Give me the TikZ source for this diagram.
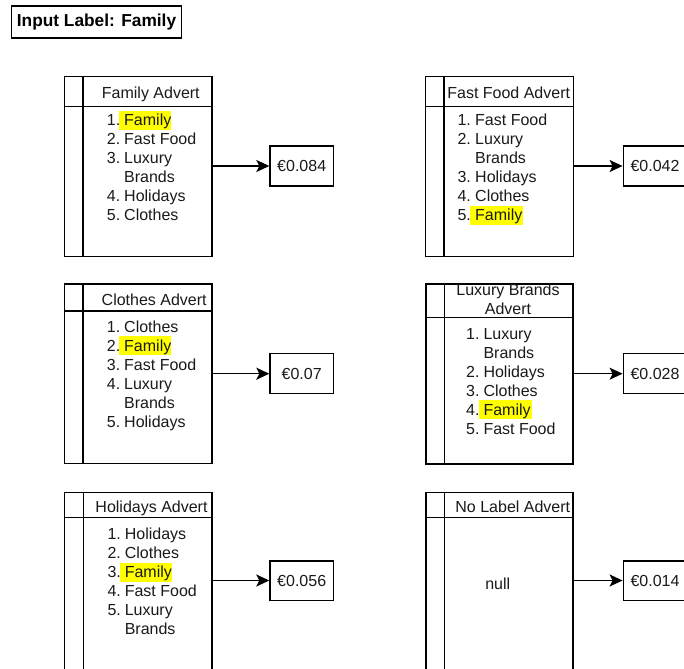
\documentclass[tikz,border=0pt]{standalone}
\usepackage{fontspec}
\setmainfont{Liberation Sans}
\usetikzlibrary{arrows.meta}
\definecolor{hl}{HTML}{FFFF00}
\definecolor{txt}{HTML}{1A1A1A}
\newcommand\ffs{\fontsize{16}{19}\selectfont}
\begin{document}
\begin{tikzpicture}[x=1pt,y=-1pt,
  advbox/.style={draw=black, line width=1.5pt, anchor=north west, inner sep=0pt},
  sepline/.style={draw=black, line width=1.5pt},
  num/.style={anchor=base west, inner sep=0pt, text=txt, font=\ffs},
  itm/.style={anchor=base west, inner sep=0pt, text=txt, font=\ffs},
  ttl/.style={anchor=base, inner sep=0pt, text=txt, font=\ffs, align=center},
  val/.style={draw=black, line width=1.5pt, minimum width=63.3pt, minimum height=40pt, inner sep=0pt, text=txt, font=\ffs},
  conn/.style={draw=black, line width=1.5pt, -{Stealth[length=13pt,width=12pt,inset=3pt]}},
  hlbox/.style={fill=hl}]
\useasboundingbox (0,0) rectangle (684,668);
\clip (0,0) rectangle (684,668);
\fill[white] (0,0) rectangle (684,668);

% title
\node[draw=black, line width=1.3pt, minimum width=170pt, minimum height=32pt, inner sep=0pt,
      font=\fontsize{17.3}{20}\selectfont\bfseries, text=black] (title) at (96.5,22) {Input Label: Family};

% highlights (behind the text)
\fill[hlbox] (119.3,110.9) rectangle (171.2,129.7);
\fill[hlbox] (470.3,205.9) rectangle (523.2,224.7);
\fill[hlbox] (119.3,336.4) rectangle (171.2,355.2);
\fill[hlbox] (478.6,400.4) rectangle (531.5,419.2);
\fill[hlbox] (119.6,563.4) rectangle (171.5,582.2);

% ---------- advert 1 : Family ----------
\node[advbox, minimum width=147.5pt, minimum height=179.7pt] (a1) at (63.5,76) {};
\draw[sepline] ([xshift=19.4pt]a1.north west) -- ([xshift=19.4pt]a1.south west);
\draw[sepline] ([yshift=-30.7pt]a1.north west) -- ([yshift=-30.7pt]a1.north east);
\node[ttl] (t1) at (150.8,98.4) {Family Advert};
\node[num] (a1n1) at (106.7,125.2) {1.};
\node[itm] (a1i1) at (124,125.2) {Family};
\node[num] (a1n2) at (106.7,144.2) {2.};
\node[itm] (a1i2) at (124,144.2) {Fast Food};
\node[num] (a1n3) at (106.7,163.2) {3.};
\node[itm] (a1i3) at (124,163.2) {Luxury};
\node[itm] (a1i3b) at (124,182.2) {Brands};
\node[num] (a1n4) at (106.7,201.2) {4.};
\node[itm] (a1i4) at (124,201.2) {Holidays};
\node[num] (a1n5) at (106.7,220.2) {5.};
\node[itm] (a1i5) at (124,220.2) {Clothes};
\node[val] (v1) at (301.7,166) {€0.084};
\draw[conn] (a1.east |- v1.west) -- (v1.west);

% ---------- advert 2 : Fast Food ----------
\node[advbox, minimum width=147.8pt, minimum height=179.7pt] (a2) at (424.7,76) {};
\draw[sepline] ([xshift=19.3pt]a2.north west) -- ([xshift=19.3pt]a2.south west);
\draw[sepline] ([yshift=-30.7pt]a2.north west) -- ([yshift=-30.7pt]a2.north east);
\node[ttl] (t2) at (508.7,98.7) {Fast Food Advert};
\node[num] (a2n1) at (457.3,125.2) {1.};
\node[itm] (a2i1) at (475,125.2) {Fast Food};
\node[num] (a2n2) at (457.3,144.2) {2.};
\node[itm] (a2i2) at (475,144.2) {Luxury};
\node[itm] (a2i2b) at (475,163.2) {Brands};
\node[num] (a2n3) at (457.3,182.2) {3.};
\node[itm] (a2i3) at (475,182.2) {Holidays};
\node[num] (a2n4) at (457.3,201.2) {4.};
\node[itm] (a2i4) at (475,201.2) {Clothes};
\node[num] (a2n5) at (457.3,220.2) {5.};
\node[itm] (a2i5) at (475,220.2) {Family};
\node[val] (v2) at (655,166) {€0.042};
\draw[conn] (a2.east |- v2.west) -- (v2.west);

% ---------- advert 3 : Clothes ----------
\node[advbox, minimum width=147.5pt, minimum height=179.4pt] (a3) at (63.5,283.3) {};
\draw[sepline] ([xshift=19.4pt]a3.north west) -- ([xshift=19.4pt]a3.south west);
\draw[sepline] ([yshift=-27.7pt]a3.north west) -- ([yshift=-27.7pt]a3.north east);
\node[ttl] (t3) at (154.2,305.7) {Clothes Advert};
\node[num] (a3n1) at (106.7,332.7) {1.};
\node[itm] (a3i1) at (124,332.7) {Clothes};
\node[num] (a3n2) at (106.7,351.7) {2.};
\node[itm] (a3i2) at (124,351.7) {Family};
\node[num] (a3n3) at (106.7,370.7) {3.};
\node[itm] (a3i3) at (124,370.7) {Fast Food};
\node[num] (a3n4) at (106.7,389.7) {4.};
\node[itm] (a3i4) at (124,389.7) {Luxury};
\node[itm] (a3i4b) at (124,408.7) {Brands};
\node[num] (a3n5) at (106.7,427.7) {5.};
\node[itm] (a3i5) at (124,427.7) {Holidays};
\node[val] (v3) at (301.7,373.7) {€0.07};
\draw[conn] (a3.east |- v3.west) -- (v3.west);

% ---------- advert 4 : Luxury Brands ----------
\node[advbox, minimum width=147.3pt, minimum height=180pt] (a4) at (425,283.3) {};
\draw[sepline] ([xshift=19.3pt]a4.north west) -- ([xshift=19.3pt]a4.south west);
\draw[sepline] ([yshift=-34pt]a4.north west) -- ([yshift=-34pt]a4.north east);
\node[ttl] (t4a) at (508,295.7) {Luxury Brands};
\node[ttl] (t4b) at (508,314) {Advert};
\node[num] (a4n1) at (466,339.7) {1.};
\node[itm] (a4i1) at (483.3,339.7) {Luxury};
\node[itm] (a4i1b) at (483.3,358.7) {Brands};
\node[num] (a4n2) at (466,377.7) {2.};
\node[itm] (a4i2) at (483.3,377.7) {Holidays};
\node[num] (a4n3) at (466,396.7) {3.};
\node[itm] (a4i3) at (483.3,396.7) {Clothes};
\node[num] (a4n4) at (466,415.2) {4.};
\node[itm] (a4i4) at (483.3,415.2) {Family};
\node[num] (a4n5) at (466,434.2) {5.};
\node[itm] (a4i5) at (483.3,434.2) {Fast Food};
\node[val] (v4) at (655,373.7) {€0.028};
\draw[conn] (a4.east |- v4.west) -- (v4.west);

% ---------- advert 5 : Holidays ----------
\node[advbox, minimum width=147.5pt, minimum height=250pt] (a5) at (63.5,491.7) {};
\draw[sepline] ([xshift=20pt]a5.north west) -- ([xshift=20pt]a5.south west);
\draw[sepline] ([yshift=-25.6pt]a5.north west) -- ([yshift=-25.6pt]a5.north east);
\node[ttl] (t5) at (151.5,512.4) {Holidays Advert};
\node[num] (a5n1) at (107.3,539.7) {1.};
\node[itm] (a5i1) at (124.6,539.7) {Holidays};
\node[num] (a5n2) at (107.3,558.7) {2.};
\node[itm] (a5i2) at (124.6,558.7) {Clothes};
\node[num] (a5n3) at (107.3,577.7) {3.};
\node[itm] (a5i3) at (124.6,577.7) {Family};
\node[num] (a5n4) at (107.3,596.7) {4.};
\node[itm] (a5i4) at (124.6,596.7) {Fast Food};
\node[num] (a5n5) at (107.3,615.7) {5.};
\node[itm] (a5i5) at (124.6,615.7) {Luxury};
\node[itm] (a5i5b) at (124.6,634.7) {Brands};
\node[val, minimum height=39.5pt] (v5) at (301.7,580.5) {€0.056};
\draw[conn] (a5.east |- v5.west) -- (v5.west);

% ---------- advert 6 : No Label ----------
\node[advbox, minimum width=147.3pt, minimum height=250pt] (a6) at (425,491.7) {};
\draw[sepline] ([xshift=19.3pt]a6.north west) -- ([xshift=19.3pt]a6.south west);
\draw[sepline] ([yshift=-25.6pt]a6.north west) -- ([yshift=-25.6pt]a6.north east);
\node[ttl] (t6) at (512.8,512.4) {No Label Advert};
\node[ttl] (null) at (497.7,589) {null};
\node[val, minimum height=39.5pt] (v6) at (655,580.5) {€0.014};
\draw[conn] (a6.east |- v6.west) -- (v6.west);
\end{tikzpicture}
\end{document}
